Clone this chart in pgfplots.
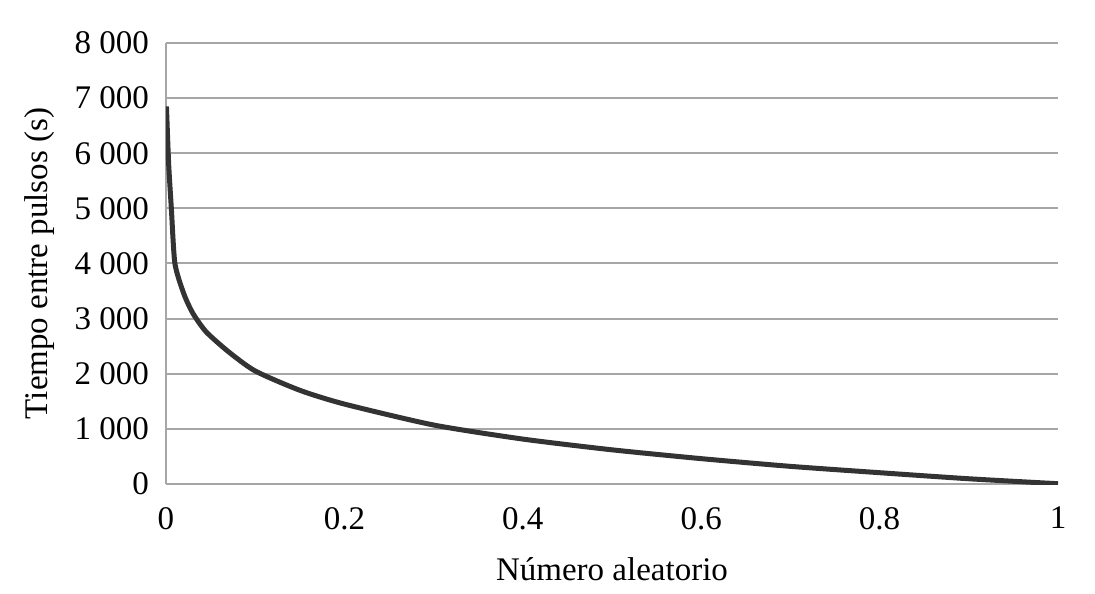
\documentclass[border=0pt]{standalone}
\usepackage{fontspec}
\setmainfont{Liberation Serif}
\usepackage{pgfplots}
\pgfplotsset{compat=1.18}
\definecolor{gridgray}{HTML}{A6A6A6}
\definecolor{curve}{HTML}{333333}
\begin{document}
\begin{tikzpicture}
\path[use as bounding box] (-83pt,-54.5pt) rectangle (464.5pt,242pt);
\begin{axis}[at={(0,0)},anchor=origin,scale only axis,width=446pt,height=220.5pt,
  xmin=0,xmax=1,ymin=0,ymax=8000,
  xtick={0,0.2,0.4,0.6,0.8,1},ytick={0,1000,...,8000},
  xticklabels={0,0.2,0.4,0.6,0.8,1},
  scaled y ticks=false,
  /pgf/number format/assume math mode=true,
  /pgf/number format/1000 sep={\ },
  axis x line*=bottom,axis y line*=left,
  axis line style={gridgray,line width=1pt,-},
  major tick length=0pt,
  ymajorgrids,grid style={gridgray,line width=1pt},
  tick label style={font=\fontsize{16.5}{19}\selectfont},
  label style={font=\fontsize{16.5}{19}\selectfont},
  yticklabel style={xshift=-5pt},
  xticklabel style={yshift=-8pt},
  xlabel={Número aleatorio},ylabel={Tiempo entre pulsos (s)},
  xlabel style={yshift=-7pt},ylabel style={yshift=3pt},
]
\addplot[curve,line width=2.5pt,smooth,tension=0.4] coordinates {
(0.0005,6850) (0.003,5800) (0.006,5000) (0.01,4000) (0.02,3450) (0.03,3100) (0.045,2760)
(0.07,2400) (0.1,2050) (0.15,1700) (0.2,1450) (0.3,1070) (0.4,815) (0.5,620)
(0.6,460) (0.7,320) (0.8,205) (0.9,95) (1,5)};
\end{axis}
\end{tikzpicture}
\end{document}
